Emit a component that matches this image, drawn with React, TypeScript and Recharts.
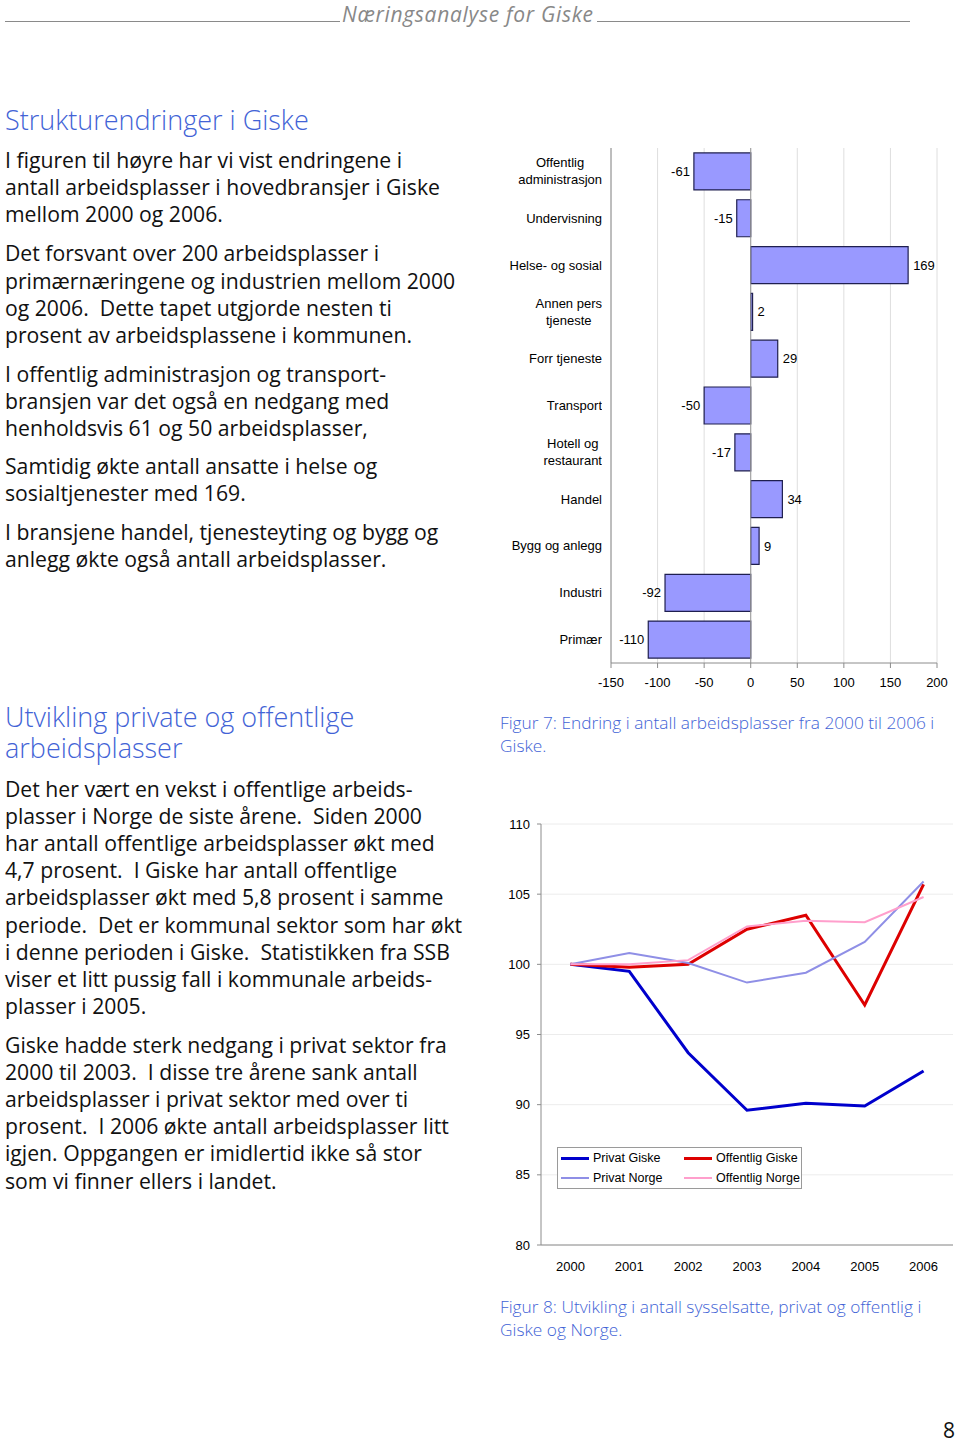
import React from 'react';
import { BarChart, Bar, LineChart, Line, XAxis, YAxis, CartesianGrid, ReferenceLine, LabelList, Legend } from 'recharts';

// Figur 7: endring i antall arbeidsplasser 2000-2006
const sectors = [
    'Offentlig\nadministrasjon',
    'Undervisning',
    'Helse- og sosial',
    'Annen pers\ntjeneste',
    'Forr tjeneste',
    'Transport',
    'Hotell og\nrestaurant',
    'Handel',
    'Bygg og anlegg',
    'Industri',
    'Primær',
];
const change = [-61, -15, 169, 2, 29, -50, -17, 34, 9, -92, -110];
const changeTicks = [-150, -100, -50, 0, 50, 100, 150, 200];

// Figur 8: indeks, 2000 = 100
const years = ['2000', '2001', '2002', '2003', '2004', '2005', '2006'];
const privatGiske = [100, 99.5, 93.7, 89.6, 90.1, 89.9, 92.4];
const offentligGiske = [100, 99.8, 100, 102.5, 103.5, 97.1, 105.7];
const privatNorge = [100, 100.8, 100.1, 98.7, 99.4, 101.6, 105.9];
const offentligNorge = [100, 100, 100.3, 102.7, 103.1, 103, 104.8];
const indexTicks = [80, 85, 90, 95, 100, 105, 110];

const barData = sectors.map((sector, i) => ({ sector, change: change[i] }));
const lineData = years.map((year, i) => ({
    year,
    privatGiske: privatGiske[i],
    offentligGiske: offentligGiske[i],
    privatNorge: privatNorge[i],
    offentligNorge: offentligNorge[i],
}));

const series = [
    { key: 'privatGiske', name: 'Privat Giske', color: '#0000cc', width: 3 },
    { key: 'offentligGiske', name: 'Offentlig Giske', color: '#dd0000', width: 3 },
    { key: 'privatNorge', name: 'Privat Norge', color: '#8f8fe6', width: 2 },
    { key: 'offentligNorge', name: 'Offentlig Norge', color: '#ff9fcc', width: 2 },
];

const chartFont = '"Liberation Sans", Arial, sans-serif';
const bodyFont = '"Open Sans", "Noto Sans", sans-serif';
const blue = '#4263d6';

// text lines of the page, [centre y, text]
const leftLines: [number, string][] = [
    [160, 'I figuren til høyre har vi vist endringene i'],
    [187, 'antall arbeidsplasser i hovedbransjer i Giske'],
    [214, 'mellom 2000 og 2006.'],
    [253, 'Det forsvant over 200 arbeidsplasser i'],
    [281, 'primærnæringene og industrien mellom 2000'],
    [308, 'og 2006.  Dette tapet utgjorde nesten ti'],
    [335, 'prosent av arbeidsplassene i kommunen.'],
    [374, 'I offentlig administrasjon og transport-'],
    [401, 'bransjen var det også en nedgang med'],
    [428, 'henholdsvis 61 og 50 arbeidsplasser,'],
    [466, 'Samtidig økte antall ansatte i helse og'],
    [493, 'sosialtjenester med 169.'],
    [532, 'I bransjene handel, tjenesteyting og bygg og'],
    [559, 'anlegg økte også antall arbeidsplasser.'],
    [789, 'Det her vært en vekst i offentlige arbeids-'],
    [816, 'plasser i Norge de siste årene.  Siden 2000'],
    [843, 'har antall offentlige arbeidsplasser økt med'],
    [870, '4,7 prosent.  I Giske har antall offentlige'],
    [897, 'arbeidsplasser økt med 5,8 prosent i samme'],
    [925, 'periode.  Det er kommunal sektor som har økt'],
    [952, 'i denne perioden i Giske.  Statistikken fra SSB'],
    [979, 'viser et litt pussig fall i kommunale arbeids-'],
    [1006, 'plasser i 2005.'],
    [1045, 'Giske hadde sterk nedgang i privat sektor fra'],
    [1072, '2000 til 2003.  I disse tre årene sank antall'],
    [1099, 'arbeidsplasser i privat sektor med over ti'],
    [1126, 'prosent.  I 2006 økte antall arbeidsplasser litt'],
    [1153, 'igjen. Oppgangen er imidlertid ikke så stor'],
    [1181, 'som vi finner ellers i landet.'],
];
const headings: [number, string][] = [
    [120, 'Strukturendringer i Giske'],
    [717, 'Utvikling private og offentlige'],
    [748, 'arbeidsplasser'],
];
const captions: [number, string][] = [
    [723, 'Figur 7: Endring i antall arbeidsplasser fra 2000 til 2006 i'],
    [746, 'Giske.'],
    [1307, 'Figur 8: Utvikling i antall sysselsatte, privat og offentlig i'],
    [1330, 'Giske og Norge.'],
];

const SectorTick = (props: any) => {
    const { x, y, payload } = props;
    const lines = String(payload.value).split('\n');
    return (
        <foreignObject x={x - 203} y={y - 22} width={200} height={44}>
            <div style={{ display: 'flex', justifyContent: 'flex-end', alignItems: 'center', height: '100%' }}>
                <div style={{ textAlign: 'center', fontFamily: chartFont, fontSize: 13, lineHeight: '17px', color: '#000' }}>
                    {lines.map((l, i) => (
                        <div key={i}>{l}</div>
                    ))}
                </div>
            </div>
        </foreignObject>
    );
};

const BarValue = (props: any) => {
    const { x, y, width, height, value } = props;
    const a = Number(x);
    const b = Number(x) + Number(width);
    const cy = Number(y) + Number(height) / 2;
    const neg = value < 0;
    const end = neg ? Math.min(a, b) : Math.max(a, b);
    return (
        <text x={neg ? end - 4 : end + 5} y={cy} dy="0.35em" textAnchor={neg ? 'end' : 'start'}
            fontFamily={chartFont} fontSize={13} fill="#000">
            {value}
        </text>
    );
};

const LineLegend = () => (
    <div style={{
        border: '1px solid #9a9a9a', background: '#fff', width: 243, height: 40,
        display: 'grid', gridTemplateColumns: '123px 120px', fontFamily: chartFont, fontSize: 12.5,
    }}>
        {series.map((s) => (
            <div key={s.key} style={{ display: 'flex', alignItems: 'center', height: 20, paddingLeft: 3, whiteSpace: 'nowrap' }}>
                <span style={{ display: 'inline-block', flex: 'none', width: 28, height: s.width, background: s.color, marginRight: 4 }} />
                <span>{s.name}</span>
            </div>
        ))}
    </div>
);

const App: React.FC = () => {
    return (
        <div style={{ position: 'absolute', left: 0, top: 0, width: 960, height: 1444, background: '#fff', overflow: 'hidden' }}>
            {/* page header */}
            <div style={{ position: 'absolute', left: 5, top: 21, width: 335, borderTop: '1px solid #8a8a8a' }} />
            <div style={{
                position: 'absolute', left: 342, top: 3, fontFamily: bodyFont, fontStyle: 'italic',
                fontSize: 21, letterSpacing: 0.7, color: '#888', lineHeight: '22px', whiteSpace: 'nowrap',
            }}>Næringsanalyse for Giske</div>
            <div style={{ position: 'absolute', left: 597, top: 21, width: 313, borderTop: '1px solid #8a8a8a' }} />

            {headings.map(([cy, t]) => (
                <div key={t} style={{
                    position: 'absolute', left: 5, top: cy - 13, lineHeight: '26px', fontFamily: bodyFont,
                    fontWeight: 300, fontSize: 27, color: blue, whiteSpace: 'nowrap',
                }}>{t}</div>
            ))}
            {leftLines.map(([cy, t]) => (
                <div key={t} style={{
                    position: 'absolute', left: 5, top: cy - 13, lineHeight: '26px', fontFamily: bodyFont,
                    fontSize: 21.2, color: '#111', whiteSpace: 'pre',
                }}>{t}</div>
            ))}
            {captions.map(([cy, t]) => (
                <div key={t} style={{
                    position: 'absolute', left: 500, top: cy - 11, lineHeight: '22px', fontFamily: bodyFont,
                    fontWeight: 300, fontSize: 17.3, color: blue, whiteSpace: 'nowrap',
                }}>{t}</div>
            ))}
            <div style={{
                position: 'absolute', left: 943, top: 1418, width: 16, lineHeight: '24px', fontFamily: bodyFont,
                fontSize: 21, color: '#111',
            }}>8</div>

            {/* Figur 7 */}
            <div style={{ position: 'absolute', left: 490, top: 140 }}>
                <BarChart width={470} height={560} data={barData} layout="vertical"
                    margin={{ top: 8, right: 23, left: 0, bottom: 0 }} barCategoryGap="10.5%">
                    <CartesianGrid horizontal={false} stroke="#dedede" />
                    <XAxis type="number" domain={[-150, 200]} ticks={changeTicks} interval={0}
                        height={37} stroke="#8c8c8c" tickSize={5} tickMargin={10}
                        tick={{ fontFamily: chartFont, fontSize: 13, fill: '#000' }} />
                    <XAxis xAxisId="top" orientation="top" type="number" domain={[-150, 200]}
                        tick={false} tickLine={false} height={0} stroke="#9a9a9a" />
                    <YAxis type="category" dataKey="sector" width={121} stroke="#8c8c8c"
                        tickLine={false} tick={<SectorTick />} interval={0} tickMargin={0} />
                    <YAxis yAxisId="right" orientation="right" type="category" dataKey="sector"
                        tick={false} tickLine={false} width={0} stroke="#9a9a9a" />
                    <ReferenceLine x={0} stroke="#9a9a9a" />
                    <Bar dataKey="change" fill="#9999ff" stroke="#1f1f4f" strokeWidth={1.2} isAnimationActive={false}>
                        <LabelList dataKey="change" content={<BarValue />} />
                    </Bar>
                </BarChart>
            </div>

            {/* Figur 8 */}
            <div style={{ position: 'absolute', left: 490, top: 800 }}>
                <LineChart width={470} height={490} data={lineData}
                    margin={{ top: 24, right: 7, left: 0, bottom: 15 }}>
                    <CartesianGrid vertical={false} stroke="#ececec" />
                    <XAxis dataKey="year" scale="band" height={30} stroke="#8c8c8c" tickLine={false}
                        tickMargin={11} interval={0}
                        tick={{ fontFamily: chartFont, fontSize: 13, fill: '#000' }} />
                    <XAxis xAxisId="top" orientation="top" dataKey="year" scale="band"
                        tick={false} tickLine={false} height={0} stroke="#9a9a9a" />
                    <YAxis domain={[80, 110]} ticks={indexTicks} interval={0} width={51}
                        stroke="#8c8c8c" tickSize={4} tickMargin={7}
                        tick={{ fontFamily: chartFont, fontSize: 13, fill: '#000' }} />
                    <YAxis yAxisId="right" orientation="right" domain={[80, 110]}
                        tick={false} tickLine={false} width={0} stroke="#9a9a9a" />
                    {series.map((s) => (
                        <Line key={s.key} dataKey={s.key} name={s.name} stroke={s.color}
                            strokeWidth={s.width} dot={false} isAnimationActive={false} />
                    ))}
                    <Legend layout="horizontal" verticalAlign="middle" align="center"
                        content={<LineLegend />}
                        wrapperStyle={{ left: 67, top: 347, width: 245, height: 42 }} />
                </LineChart>
            </div>
        </div>
    );
};

export default App;
